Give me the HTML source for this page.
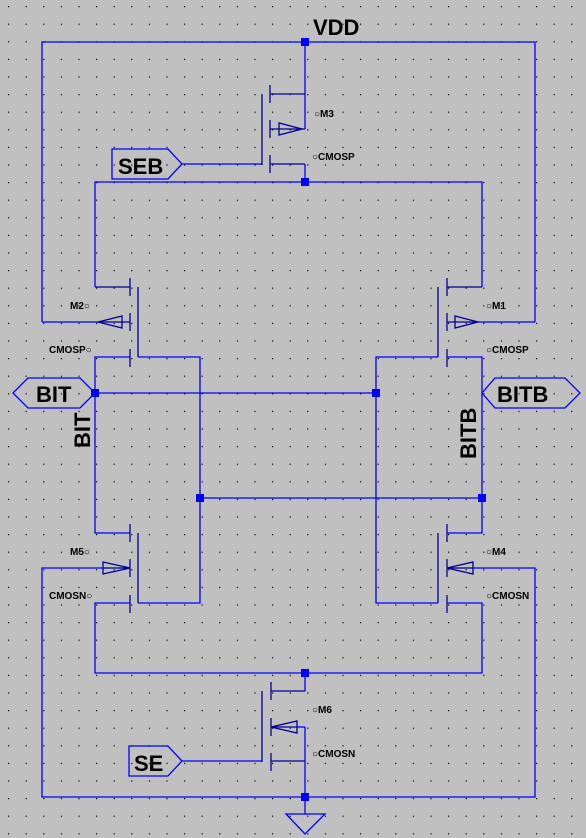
<!DOCTYPE html>
<html><head><meta charset="utf-8"><style>
html,body{margin:0;padding:0;background:#c0c0c0}
svg{display:block}
text{font-family:"Liberation Sans",sans-serif;font-weight:bold;fill:#000}
</style></head><body>
<svg width="586" height="838" viewBox="0 0 586 838" xmlns="http://www.w3.org/2000/svg">
<defs>
<pattern id="g" x="8" y="6" width="17.6" height="17.6" patternUnits="userSpaceOnUse">
<rect x="0" y="0" width="1.2" height="1.2" fill="#000"/>
</pattern>
</defs>
<rect width="586" height="838" fill="#c0c0c0"/>
<rect width="586" height="838" fill="url(#g)"/>

<g stroke="#0000ff" stroke-width="1.3" fill="none">
<polyline points="42,322 42,42 535,42 535,322"/>
<line x1="305" y1="42" x2="305" y2="129"/>
<line x1="182" y1="164" x2="262" y2="164"/>
<line x1="305" y1="164" x2="305" y2="182"/>
<polyline points="95,287 95,182 482,182 482,287"/>
<line x1="42" y1="322" x2="98" y2="322"/>
<line x1="478" y1="322" x2="535" y2="322"/>
<polyline points="130,357 95,357 95,533 130,533"/>
<polyline points="138,357 200,357 200,603 138,603"/>
<line x1="95" y1="393" x2="376" y2="393"/>
<polyline points="438,357 376,357 376,603 438,603"/>
<polyline points="447,357 482,357 482,533 447,533"/>
<line x1="200" y1="498" x2="482" y2="498"/>
<polyline points="103,568 42,568 42,797 535,797 535,568 473,568"/>
<polyline points="130,603 95,603 95,673 482,673 482,603 447,603"/>
<line x1="305" y1="673" x2="305" y2="691"/>
<line x1="182" y1="761" x2="262" y2="761"/>
<line x1="297" y1="727" x2="305" y2="727"/>
<line x1="305" y1="727" x2="305" y2="814"/>
<polygon points="286,814 325,814 305,834"/>
<polygon points="112,149 168,149 182,164 168,179 112,179"/>
<polygon points="129,746 168,746 182,761 168,776 129,776"/>
<polygon points="13,393 28,378 80,378 95,393 80,408 28,408"/>
<polygon points="482,393 495,378 565,378 580,393 565,408 495,408"/>
</g>

<g fill="#0000ff">
<rect x="301" y="38" width="8" height="8"/>
<rect x="301" y="178" width="8" height="8"/>
<rect x="91" y="389" width="8" height="8"/>
<rect x="372" y="389" width="8" height="8"/>
<rect x="196" y="494" width="8" height="8"/>
<rect x="478" y="494" width="8" height="8"/>
<rect x="301" y="669" width="8" height="8"/>
<rect x="301" y="793" width="8" height="8"/>
</g>

<g stroke="#000099" stroke-width="1.3" fill="none">
<line x1="270" y1="85" x2="270" y2="103"/><line x1="270" y1="120" x2="270" y2="138"/><line x1="270" y1="155" x2="270" y2="173"/>
<line x1="262" y1="94" x2="262" y2="165"/>
<polyline points="270,94 305,94"/>
<line x1="270" y1="129" x2="305" y2="129"/>
<polygon points="279,123 279,135 302,129"/>
<polyline points="270,164 305,164"/>
<line x1="130" y1="278" x2="130" y2="296"/><line x1="130" y1="313" x2="130" y2="331"/><line x1="130" y1="349" x2="130" y2="367"/>
<line x1="138" y1="287" x2="138" y2="357"/>
<line x1="95" y1="287" x2="130" y2="287"/>
<line x1="98" y1="322" x2="130" y2="322"/>
<polygon points="122,316 122,328 98,322"/>
<line x1="447" y1="278" x2="447" y2="296"/><line x1="447" y1="313" x2="447" y2="331"/><line x1="447" y1="349" x2="447" y2="367"/>
<line x1="438" y1="287" x2="438" y2="357"/>
<line x1="447" y1="287" x2="482" y2="287"/>
<line x1="447" y1="322" x2="478" y2="322"/>
<polygon points="455,316 455,328 478,322"/>
<line x1="130" y1="524" x2="130" y2="542"/><line x1="130" y1="559" x2="130" y2="577"/><line x1="130" y1="595" x2="130" y2="613"/>
<line x1="138" y1="533" x2="138" y2="603"/>
<line x1="103" y1="568" x2="130" y2="568"/>
<polygon points="103,562 103,574 130,568"/>
<line x1="447" y1="524" x2="447" y2="542"/><line x1="447" y1="559" x2="447" y2="577"/><line x1="447" y1="595" x2="447" y2="613"/>
<line x1="438" y1="533" x2="438" y2="603"/>
<line x1="447" y1="568" x2="473" y2="568"/>
<polygon points="473,562 473,574 447,568"/>
<line x1="271" y1="682" x2="271" y2="700"/><line x1="271" y1="718" x2="271" y2="736"/><line x1="271" y1="753" x2="271" y2="771"/>
<line x1="262" y1="691" x2="262" y2="762"/>
<line x1="271" y1="691" x2="305" y2="691"/>
<line x1="271" y1="727" x2="297" y2="727"/>
<polygon points="297,721 297,733 271,727"/>
<line x1="271" y1="761" x2="305" y2="761"/>
</g>

<text x="313" y="35" font-size="22">VDD</text>
<text x="118" y="174" font-size="22">SEB</text>
<text x="134" y="771" font-size="22">SE</text>
<text x="36" y="402" font-size="22">BIT</text>
<text x="497" y="402" font-size="22">BITB</text>
<text transform="translate(90,448) rotate(-90)" font-size="22">BIT</text>
<text transform="translate(476,459) rotate(-90)" font-size="22">BITB</text>
<g font-size="10">
<text x="314" y="117">○M3</text>
<text x="312" y="160">○CMOSP</text>
<text x="70" y="309">M2○</text>
<text x="49" y="353">CMOSP○</text>
<text x="486" y="309">○M1</text>
<text x="486" y="353">○CMOSP</text>
<text x="70" y="555">M5○</text>
<text x="49" y="599">CMOSN○</text>
<text x="486" y="555">○M4</text>
<text x="486" y="599">○CMOSN</text>
<text x="312" y="713">○M6</text>
<text x="312" y="757">○CMOSN</text>
</g>
</svg>
</body></html>
